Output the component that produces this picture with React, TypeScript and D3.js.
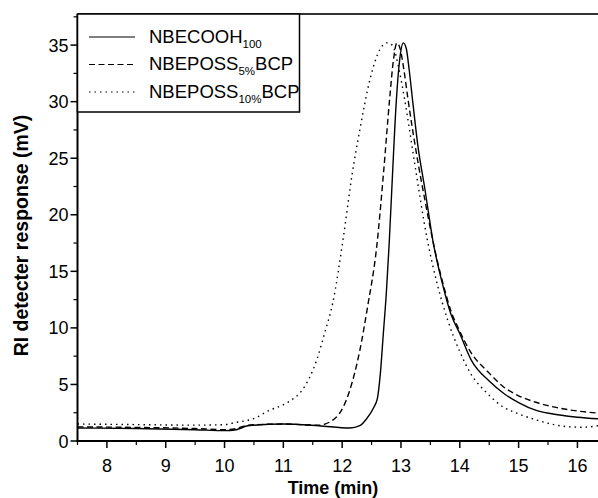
import React from "react";
import * as d3 from "d3";

// NBECOOH100
const solidTime = [7.5, 8.5, 9.5, 10.0, 10.2, 10.4, 11.0, 11.6, 12.13, 12.3, 12.42, 12.53, 12.6, 12.65, 12.7, 12.75, 12.8, 12.86, 12.92, 12.98, 13.04, 13.09, 13.14, 13.2, 13.29, 13.4, 13.55, 13.7, 13.85, 14.0, 14.2, 14.5, 14.75, 15.0, 15.3, 15.7, 16.0, 16.4];
const solidValue = [1.15, 1.1, 1.0, 0.92, 1.0, 1.35, 1.5, 1.35, 1.15, 1.35, 2.0, 2.9, 3.8, 6, 9.5, 13, 17.5, 24, 30, 33.8, 35.2, 34.7, 32.8, 30, 26, 22.5, 17.5, 14, 11.2, 9.5, 7.1, 5.3, 4.2, 3.4, 2.7, 2.3, 2.1, 1.95];

// NBEPOSS5%BCP
const dashTime = [7.5, 8.5, 9.5, 10.0, 10.2, 10.4, 11.0, 11.6, 11.9, 12.13, 12.3, 12.43, 12.59, 12.7, 12.81, 12.87, 12.93, 12.99, 13.05, 13.12, 13.29, 13.4, 13.55, 13.7, 13.85, 14.0, 14.18, 14.5, 14.74, 15.0, 15.31, 15.7, 16.0, 16.4];
const dashValue = [1.25, 1.2, 1.1, 1.0, 1.1, 1.4, 1.5, 1.4, 2.1, 4.5, 8, 11.8, 17.3, 23.5, 30.4, 33.6, 35.2, 34.6, 32.8, 30.2, 24.6, 21.5, 17.5, 14.2, 11.5, 9.7, 7.9, 6.0, 4.8, 4.0, 3.4, 2.9, 2.65, 2.45];

// NBEPOSS10%BCP
const dotTime = [7.5, 8.5, 9.5, 10.0, 10.15, 10.55, 10.72, 11.1, 11.32, 11.57, 11.7, 11.84, 12.02, 12.17, 12.3, 12.47, 12.64, 12.76, 12.85, 12.98, 13.1, 13.24, 13.44, 13.62, 13.8, 14.0, 14.18, 14.45, 14.74, 15.0, 15.31, 15.6, 15.87, 16.1, 16.4];
const dotValue = [1.5, 1.45, 1.4, 1.45, 1.6, 2.1, 2.6, 3.5, 4.5, 7.2, 9.5, 12.2, 18, 23.6, 27.5, 31.9, 34.6, 35.2, 35, 32.5, 29, 24.3, 18, 13.8, 10.6, 7.9, 6.0, 4.3, 3.0, 2.4, 1.85, 1.45, 1.25, 1.22, 1.4];

const xTicks = [8, 9, 10, 11, 12, 13, 14, 15, 16];
const yTicks = [0, 5, 10, 15, 20, 25, 30, 35];

const seriesNames = ["NBECOOH", "NBEPOSS", "NBEPOSS"];
const seriesSubs = ["100", "5%", "10%"];
const seriesTails = ["", "BCP", "BCP"];

const W = 598;
const H = 498;
const left = 77.5;
const top = 14;
const bottom = 441;

const x = d3.scaleLinear().domain([7.5, 16.35]).range([left, W]);
const y = d3.scaleLinear().domain([0, 37.75]).range([bottom, top]);

const line = d3
  .line<[number, number]>()
  .x((d) => x(d[0]))
  .y((d) => y(d[1]))
  .curve(d3.curveMonotoneX);

const zip = (t: number[], v: number[]) => t.map((d, i) => [d, v[i]] as [number, number]);

const series = [
  { pts: zip(solidTime, solidValue), dash: "none" },
  { pts: zip(dashTime, dashValue), dash: "6,3.5" },
  { pts: zip(dotTime, dotValue), dash: "1.5,4" },
];

const font = "Liberation Sans, Arial, Helvetica, sans-serif";

export default function App() {
  const xMinor = d3.range(7.5, 16.4, 0.5).filter((t) => !xTicks.includes(t));
  const yMinor = d3.range(2.5, 37.6, 5);
  return (
    <svg
      width={W}
      height={H}
      style={{ position: "absolute", left: 0, top: 0, background: "#fff" }}
      fontFamily={font}
    >
      <defs>
        <clipPath id="plot">
          <rect x={left} y={top} width={W - left} height={bottom - top} />
        </clipPath>
      </defs>

      {/* curves */}
      <g clipPath="url(#plot)" fill="none" stroke="#000" strokeWidth={1.4}>
        {series.map((s, i) => (
          <path key={i} d={line(s.pts) || ""} strokeDasharray={s.dash} />
        ))}
      </g>

      {/* frame top */}
      <line x1={left} x2={W} y1={top} y2={top} stroke="#333" strokeWidth={2} />

      {/* x axis */}
      <line x1={left - 1} x2={W} y1={bottom} y2={bottom} stroke="#000" strokeWidth={2} />
      {xTicks.map((t) => (
        <g key={t}>
          <line x1={x(t)} x2={x(t)} y1={bottom} y2={bottom + 7} stroke="#000" strokeWidth={1.5} />
          <text x={x(t)} y={bottom + 31} textAnchor="middle" fontSize={18}>
            {t}
          </text>
        </g>
      ))}
      {xMinor.map((t) => (
        <line key={t} x1={x(t)} x2={x(t)} y1={bottom} y2={bottom + 4} stroke="#000" strokeWidth={1.2} />
      ))}

      {/* y axis */}
      <line x1={left} x2={left} y1={top} y2={bottom + 1} stroke="#000" strokeWidth={2} />
      {yTicks.map((v) => (
        <g key={v}>
          <line x1={left - 7} x2={left} y1={y(v)} y2={y(v)} stroke="#000" strokeWidth={1.5} />
          <text x={left - 9} y={y(v) + 6.5} textAnchor="end" fontSize={18}>
            {v}
          </text>
        </g>
      ))}
      {yMinor.map((v) => (
        <line key={v} x1={left - 4} x2={left} y1={y(v)} y2={y(v)} stroke="#000" strokeWidth={1.2} />
      ))}

      {/* axis titles */}
      <text x={333} y={494} textAnchor="middle" fontSize={18} fontWeight="bold">
        Time (min)
      </text>
      <text
        transform={`translate(28,${(top + bottom) / 2 + 8}) rotate(-90)`}
        textAnchor="middle"
        fontSize={19.5}
        fontWeight="bold"
      >
        RI detecter response (mV)
      </text>

      {/* legend */}
      <rect x={left} y={top} width={222} height={98} fill="#fff" stroke="#000" strokeWidth={1.5} />
      {series.map((s, i) => {
        const cy = 37 + i * 27.5;
        return (
          <g key={i}>
            <line x1={89} x2={135} y1={cy} y2={cy} stroke="#000" strokeWidth={1.2} strokeDasharray={s.dash} />
            <text x={149} y={cy + 5.5} fontSize={18.5}>
              {seriesNames[i]}
              <tspan fontSize={11.5} dy={5}>
                {seriesSubs[i]}
              </tspan>
              {seriesTails[i] && <tspan dy={-5}>{seriesTails[i]}</tspan>}
            </text>
          </g>
        );
      })}
    </svg>
  );
}
